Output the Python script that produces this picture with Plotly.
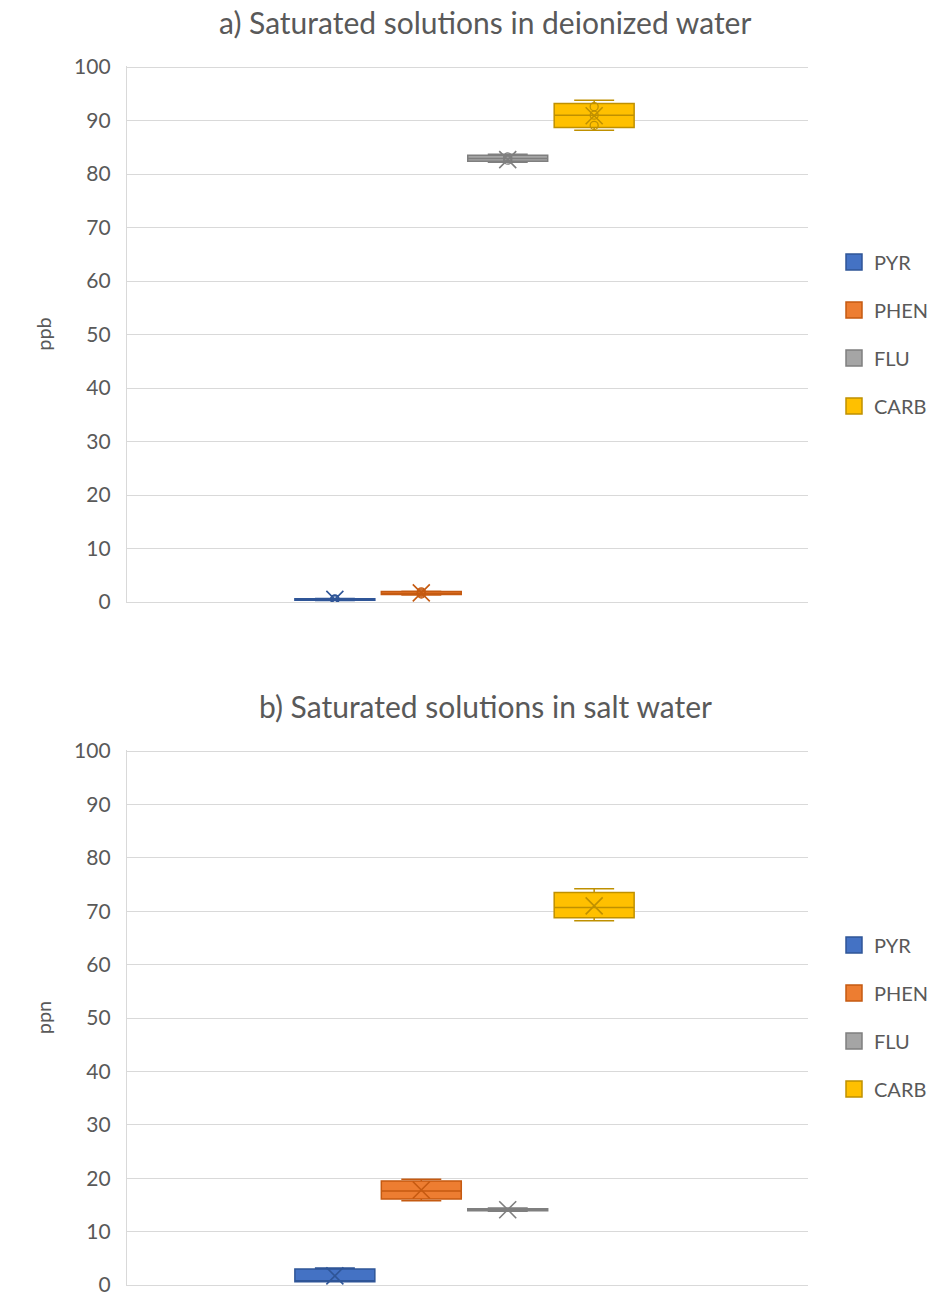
import plotly.graph_objects as go

# Compounds (one box per compound in each panel)
categories = ["PYR", "PHEN", "FLU", "CARB"]
fill_colors = ["#4472C4", "#ED7D31", "#A5A5A5", "#FFC000"]
edge_colors = ["#2F5597", "#C55A11", "#7F7F7F", "#BF9000"]

# a) deionized water, ppb
a_lower = [0.3, 1.3, 82.2, 88.2]
a_q1 = [0.35, 1.4, 82.4, 88.7]
a_median = [0.5, 1.6, 82.9, 91.0]
a_q3 = [0.6, 1.95, 83.5, 93.2]
a_upper = [0.65, 2.0, 83.7, 93.8]
a_mean = [0.5, 1.7, 82.7, 90.9]
a_points = [[0.4, 0.5, 0.6], [1.5, 1.7, 1.9], [82.6, 82.9, 83.2], [89.1, 91.0, 92.6]]

# b) salt water, ppn
b_lower = [0.6, 15.8, 13.8, 68.2]
b_q1 = [0.6, 16.1, 13.9, 68.8]
b_median = [0.7, 17.6, 14.1, 70.7]
b_q3 = [3.0, 19.5, 14.3, 73.5]
b_upper = [3.2, 19.8, 14.4, 74.2]
b_mean = [1.7, 17.8, 14.1, 71.0]
b_points = [[], [], [], []]

panel_titles = ["a) Saturated solutions in deionized water", "b) Saturated solutions in salt water"]
y_titles = ["ppb", "ppn"]

FONT = "Lato"
TEXT = "#595959"
GRID = "#D9D9D9"

fig = go.Figure()

panels = [
    dict(lower=a_lower, q1=a_q1, med=a_median, q3=a_q3, upper=a_upper, mean=a_mean, pts=a_points,
         xa="x", ya="y", legend="legend"),
    dict(lower=b_lower, q1=b_q1, med=b_median, q3=b_q3, upper=b_upper, mean=b_mean, pts=b_points,
         xa="x2", ya="y2", legend="legend2"),
]

for p in panels:
    for i, name in enumerate(categories):
        fig.add_trace(go.Box(
            x=[i], q1=[p["q1"][i]], median=[p["med"][i]], q3=[p["q3"][i]],
            lowerfence=[p["lower"][i]], upperfence=[p["upper"][i]],
            width=0.925, whiskerwidth=0.5,
            fillcolor=fill_colors[i], line=dict(color=edge_colors[i], width=1.5),
            boxpoints=False, showlegend=False, hoverinfo="skip",
            xaxis=p["xa"], yaxis=p["ya"],
        ))
        # inner data points
        if p["pts"][i]:
            fig.add_trace(go.Scatter(
                x=[i] * len(p["pts"][i]), y=p["pts"][i], mode="markers",
                marker=dict(symbol="circle-open", size=8, color=edge_colors[i], line=dict(width=1.3)),
                showlegend=False, hoverinfo="skip", xaxis=p["xa"], yaxis=p["ya"],
            ))
        # mean marker
        fig.add_trace(go.Scatter(
            x=[i], y=[p["mean"][i]], mode="markers",
            marker=dict(symbol="x-thin-open", size=17, color=edge_colors[i], line=dict(width=1.6, color=edge_colors[i])),
            showlegend=False, hoverinfo="skip", xaxis=p["xa"], yaxis=p["ya"],
        ))
        # legend swatch
        fig.add_trace(go.Scatter(
            x=[None], y=[None], mode="markers", name=name,
            marker=dict(symbol="square", size=16, color=fill_colors[i], line=dict(width=1.5, color=edge_colors[i])),
            legend=p["legend"], legendgroup=p["legend"] + name,
            xaxis=p["xa"], yaxis=p["ya"],
        ))

W, H = 944, 1310
x_dom = [127 / W, 808 / W]
dom_a = [1 - 602 / H, 1 - 66 / H]
dom_b = [1 - 1285 / H, 1 - 750 / H]

x_range = [-2.405, 5.474]

axis_x = dict(range=x_range, showticklabels=False, showgrid=False, zeroline=False,
              showline=True, linecolor=GRID, linewidth=1.3, fixedrange=True)

def axis_y(dom, title):
    return dict(domain=dom, range=[0, 100.2], dtick=10, tick0=0, showgrid=True, gridcolor=GRID, gridwidth=1.3,
                zeroline=False, showline=True, linecolor=GRID, linewidth=1.3,
                ticks="", ticklabelstandoff=11, automargin=False,
                tickfont=dict(family=FONT, size=21, color=TEXT),
                title=dict(text=title, font=dict(family=FONT, size=20, color=TEXT), standoff=17))

legend_common = dict(font=dict(family=FONT, size=20, color=TEXT), bgcolor="rgba(0,0,0,0)",
                     tracegroupgap=19, x=834 / W, xanchor="left", yanchor="middle", itemclick=False)

fig.update_layout(
    width=W, height=H,
    margin=dict(l=0, r=0, t=0, b=0, autoexpand=False),
    paper_bgcolor="white", plot_bgcolor="white",
    showlegend=True,
    xaxis=dict(domain=x_dom, anchor="y", **axis_x),
    yaxis=dict(anchor="x", **axis_y(dom_a, y_titles[0])),
    xaxis2=dict(domain=x_dom, anchor="y2", **axis_x),
    yaxis2=dict(anchor="x2", **axis_y(dom_b, y_titles[1])),
    legend=dict(y=1 - 334 / H, **legend_common),
    legend2=dict(y=1 - 1017 / H, **legend_common),
    annotations=[
        dict(text=panel_titles[0], x=485 / W, y=1 - 22 / H, xref="paper", yref="paper",
             showarrow=False, font=dict(family=FONT, size=30, color=TEXT), xanchor="center", yanchor="middle"),
        dict(text=panel_titles[1], x=485 / W, y=1 - 706 / H, xref="paper", yref="paper",
             showarrow=False, font=dict(family=FONT, size=30, color=TEXT), xanchor="center", yanchor="middle"),
    ],
)

fig.write_html("out.html")
